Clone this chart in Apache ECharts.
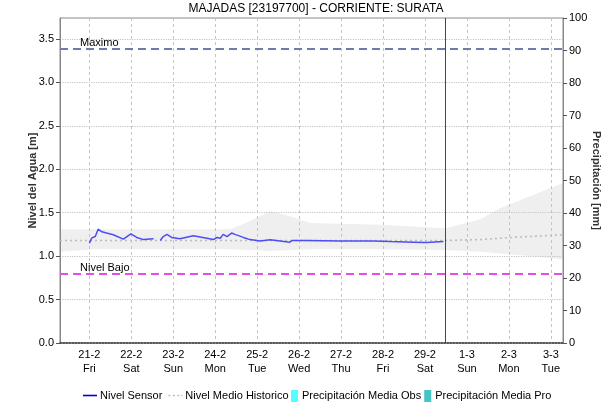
<!DOCTYPE html>
<html>
<head>
<meta charset="utf-8">
<script src="https://cdn.jsdelivr.net/npm/echarts@6/dist/echarts.min.js"></script>
<style>html,body{margin:0;padding:0;background:#fff}#c{width:615px;height:404px}</style>
</head>
<body>
<div id="c"></div>
<script>
// x values are days after 21-2 00:00
const tickDays = [0,1,2,3,4,5,6,7,8,9,10,11];
const tickDates = ['21-2','22-2','23-2','24-2','25-2','26-2','27-2','28-2','29-2','1-3','2-3','3-3'];
const tickWeekdays = ['Fri','Sat','Sun','Mon','Tue','Wed','Thu','Fri','Sat','Sun','Mon','Tue'];
const levelTicks = [0,0.5,1.0,1.5,2.0,2.5,3.0,3.5];

const sensorDays   = [0.00,0.06,0.14,0.21,0.30,0.41,0.57,0.81,0.99,1.13,1.29,1.53,1.60,1.69,1.76,1.85,1.96,2.16,2.48,2.80,2.96,3.04,3.12,3.19,3.28,3.39,3.47,3.67,3.83,4.07,4.31,4.78,4.83,5.18,5.98,6.76,7.17,7.72,8.04,8.44];
const sensorLevels = [1.15,1.21,1.225,1.31,1.28,1.265,1.245,1.195,1.256,1.215,1.19,1.20,null,1.18,1.225,1.25,1.215,1.20,1.233,1.205,1.19,1.215,1.205,1.25,1.225,1.265,1.25,1.215,1.19,1.175,1.187,1.16,1.18,1.18,1.175,1.175,1.167,1.16,1.156,1.167];

const bandDays  = [-0.70,0.09,1.45,3.35,3.83,4.31,4.78,5.26,6.93,8.48,9.31,9.79,10.50,11.29];
const bandUpper = [1.31,1.31,1.31,1.31,1.40,1.52,1.46,1.38,1.36,1.32,1.42,1.55,1.69,1.84];
const bandLower = [1.05,1.08,1.08,1.08,1.07,1.06,1.07,1.08,1.08,1.07,1.05,1.03,1.00,0.96];

const meanDays   = [-0.70,2.00,5.00,8.48,9.31,10.26,11.29];
const meanLevels = [1.18,1.18,1.18,1.18,1.19,1.22,1.245];

const precipDays = [0,1,2,3,4,5,6,7,8];
const precipObs  = [0,0,0,0,0,0,0,0,0];
const precipPro  = [0,0,0,0,0,0,0,0,0];

const nivelMaximo = 3.39;
const nivelBajo = 0.80;
const nowDay = 8.48;

const zip = (a,b) => a.map((v,i) => [v, b[i]]);
const font = 'Liberation Sans, Arial, sans-serif';

const chart = echarts.init(document.getElementById('c'), null, {renderer:'canvas'});
chart.setOption({
  animation:false,
  backgroundColor:'#fff',
  textStyle:{fontFamily:font},
  title:{text:'MAJADAS [23197700] - CORRIENTE: SURATA', left:311, top:-2, textAlign:'center',
    textStyle:{fontSize:12, fontWeight:'normal', color:'#000', fontFamily:font}},
  grid:{left:60, right:52, top:18, bottom:61, show:true, borderColor:'#888', borderWidth:1, backgroundColor:'transparent'},
  legend:[
    {left:78, top:385, itemGap:6, itemWidth:14, itemHeight:12,
      textStyle:{fontSize:11, color:'#000', fontFamily:font, padding:[0,0,0,-2]},
      data:[
        {name:'Nivel Sensor', icon:'path://M0,5h14v1.6h-14z'},
        {name:'Nivel Medio Historico', icon:'path://M0,5h2v1.6h-2zM4.5,5h2v1.6h-2zM9,5h2v1.6h-2zM13,5h1v1.6h-1z'}
      ]},
    {left:286, top:385, itemGap:3, itemWidth:7, itemHeight:12,
      textStyle:{fontSize:11, color:'#000', fontFamily:font, padding:[0,0,0,-1]},
      data:[
        {name:'Precipitación Media Obs', icon:'rect'},
        {name:'Precipitación Media Pro', icon:'rect'}
      ]}
  ],
  xAxis:{type:'value', min:-0.70, max:11.29,
    axisLine:{show:true, onZero:false, lineStyle:{color:'#333', type:'dotted', width:1.5}},
    axisTick:{show:false, customValues:tickDays},
    axisLabel:{customValues:tickDays, fontSize:11, color:'#000', lineHeight:14, margin:5,
      formatter:(v)=>{const i=tickDays.indexOf(Math.round(v)); return i>=0 ? tickDates[i]+'\n'+tickWeekdays[i] : '';}},
    splitLine:{show:true, lineStyle:{color:'#c4c4c4', type:[3,3], width:1}}
  },
  yAxis:[
    {type:'value', min:0, max:3.74, interval:0.5,
      name:'Nivel del Agua [m]', nameLocation:'middle', nameGap:22, nameRotate:90, nameMoveOverlap:false,
      nameTextStyle:{fontSize:11, fontWeight:'bold', color:'#333', fontFamily:font},
      axisLine:{show:true, onZero:false, lineStyle:{color:'#888'}},
      axisTick:{show:true, length:4, customValues:levelTicks, lineStyle:{color:'#555'}},
      axisLabel:{customValues:levelTicks, fontSize:11, color:'#000', margin:6, formatter:(v)=>v.toFixed(1)},
      splitLine:{show:true, lineStyle:{color:'#c4c4c4', type:'dotted', width:1.2}}
    },
    {type:'value', min:0, max:100, interval:10, position:'right',
      name:'Precipitación [mm]', nameLocation:'middle', nameGap:28, nameRotate:-90, nameMoveOverlap:false,
      nameTextStyle:{fontSize:11, fontWeight:'bold', color:'#333', fontFamily:font},
      axisLine:{show:true, onZero:false, lineStyle:{color:'#888'}},
      axisTick:{show:true, length:4, lineStyle:{color:'#555'}},
      axisLabel:{fontSize:11, color:'#000', margin:6},
      splitLine:{show:false}
    }
  ],
  series:[
    {name:'bandaHistorica', type:'custom', data:[0], silent:true, z:-1,
      renderItem:(params, api)=>{
        const pts = [];
        for (let i=0;i<bandDays.length;i++) pts.push(api.coord([bandDays[i], bandUpper[i]]));
        for (let i=bandDays.length-1;i>=0;i--) pts.push(api.coord([bandDays[i], bandLower[i]]));
        return {type:'polygon', shape:{points:pts}, style:{fill:'#efefef', stroke:null}};
      }},
    {name:'Nivel Medio Historico', type:'line', data:zip(meanDays, meanLevels), symbol:'none',
      itemStyle:{color:'#bdbdbd'}, lineStyle:{color:'#bdbdbd', width:1.6, type:[2,3]}, z:2},
    {name:'Precipitación Media Obs', type:'bar', yAxisIndex:1, data:zip(precipDays, precipObs), itemStyle:{color:'#55ffff'}, barWidth:4},
    {name:'Precipitación Media Pro', type:'bar', yAxisIndex:1, data:zip(precipDays, precipPro), itemStyle:{color:'#44c4c4'}, barWidth:4},
    {name:'Nivel Sensor', type:'line', data:zip(sensorDays, sensorLevels), symbol:'none', connectNulls:false,
      itemStyle:{color:'#0000dd'}, lineStyle:{color:'#4d4df5', width:1.5}, z:5,
      markLine:{silent:true, symbol:'none', animation:false,
        data:[
          {yAxis:nivelMaximo, lineStyle:{color:'#6f7bab', width:2, type:[8,5]},
            label:{show:true, formatter:'Maximo', position:'insideStartTop', distance:[20,0], color:'#000', fontSize:11, fontFamily:font}},
          {yAxis:nivelBajo, lineStyle:{color:'#e64ce6', width:2, type:[8,5]},
            label:{show:true, formatter:'Nivel Bajo', position:'insideStartTop', distance:[20,0], color:'#000', fontSize:11, fontFamily:font}},
          {xAxis:nowDay, lineStyle:{color:'#ee0000', width:1, type:'solid'}, label:{show:false}}
        ]}
    }
  ]
});
</script>
</body>
</html>
